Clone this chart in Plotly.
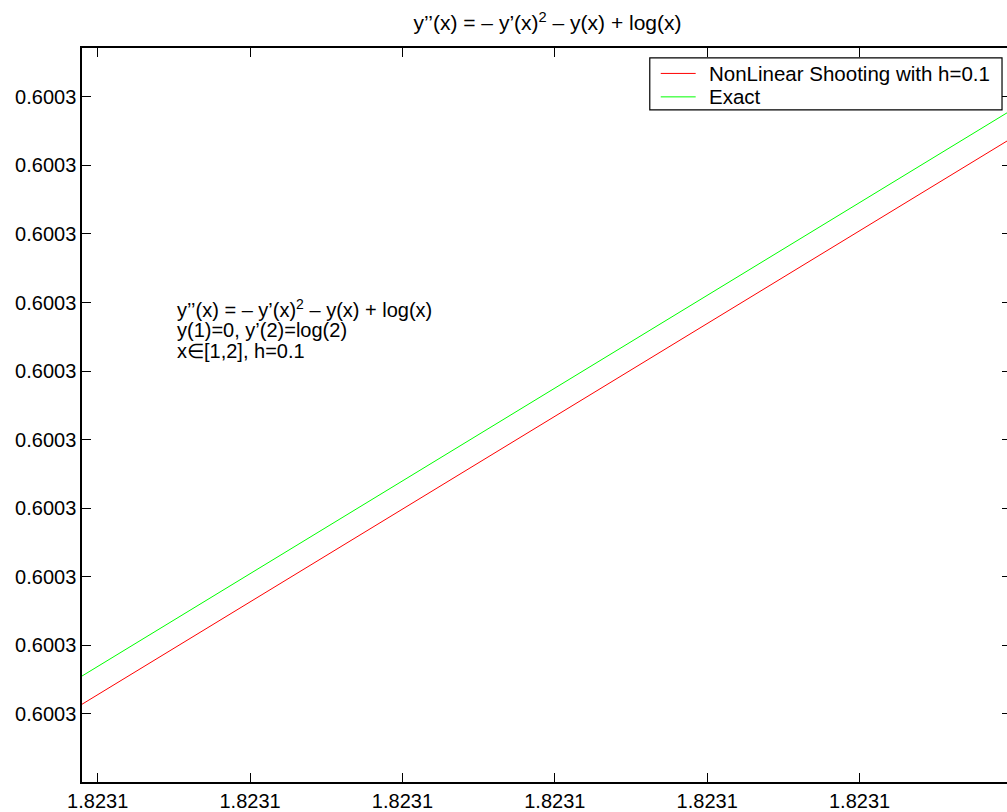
import plotly.graph_objects as go

# ---- data ----
x_vals = [1.8230998972, 1.8231059940]
nonlinear_shooting = [0.6003001410, 0.6003083910]
exact = [0.6003005525, 0.6003088020]

x_ticks = [1.823100, 1.823101, 1.823102, 1.823103, 1.823104, 1.823105]
y_ticks = [0.600300, 0.600301, 0.600302, 0.600303, 0.600304,
           0.600305, 0.600306, 0.600307, 0.600308, 0.600309]

x_range = [1.8230998972, 1.8231059940]
y_range = [0.6003 - 0.993e-6, 0.6003 + 9.712e-6]

series_names = ["NonLinear Shooting with h=0.1", "Exact"]
series_colors = ["#ff0000", "#00ff00"]
title_text = "y\u2019\u2019(x) = \u2013 y\u2019(x)<sup>2</sup> \u2013 y(x) + log(x)"
note_lines = [
    "y\u2019\u2019(x) = \u2013 y\u2019(x)<sup>2</sup> \u2013 y(x) + log(x)",
    "y(1)=0, y\u2019(2)=log(2)",
    "x\u2208[1,2], h=0.1",
]

FONT = "Liberation Sans, Arial, Helvetica, sans-serif"
W, H = 1013, 812
L, T, B = 82, 48, 28
PW, PH = W - L, H - T - B


def px(xp):
    return (xp - L) / PW


def py(yp):
    return (H - B - yp) / PH


fig = go.Figure()
for name, ys, col in zip(series_names, [nonlinear_shooting, exact], series_colors):
    fig.add_trace(go.Scatter(x=x_vals, y=ys, mode="lines", name=name,
                             line=dict(color=col, width=1), showlegend=False))

axis_common = dict(showgrid=False, zeroline=False, ticks="inside", ticklen=9,
                   tickcolor="black", tickwidth=1, mirror="ticks",
                   showline=True, linecolor="black", linewidth=1.5,
                   tickformat=".4f", tickfont=dict(size=20))

fig.update_layout(
    width=W, height=H,
    margin=dict(l=L, r=0, t=T, b=B),
    paper_bgcolor="white", plot_bgcolor="white",
    font=dict(family=FONT, size=20, color="black"),
    title=dict(text=title_text, x=547.5 / W, xanchor="center",
               xref="container", y=1 - 23 / H, yanchor="middle", yref="container",
               font=dict(family=FONT, size=21, color="black")),
    xaxis=dict(range=x_range, tickvals=x_ticks, **axis_common),
    yaxis=dict(range=y_range, tickvals=y_ticks, **axis_common),
    showlegend=False,
)

# MATLAB-style legend box
fig.add_shape(type="rect", xref="paper", yref="paper",
              x0=px(651), x1=px(1004), y0=py(110), y1=py(58),
              line=dict(color="black", width=1.2), fillcolor="white", layer="above")
legend_y = [73.5, 97]
for name, col, ly in zip(series_names, series_colors, legend_y):
    fig.add_shape(type="line", xref="paper", yref="paper",
                  x0=px(662), x1=px(697), y0=py(ly), y1=py(ly),
                  line=dict(color=col, width=1), layer="above")
    fig.add_annotation(text=name, xref="paper", yref="paper",
                       x=px(708), xanchor="left", y=py(ly), yanchor="middle",
                       showarrow=False, font=dict(family=FONT, size=20.5, color="black"))

note_y_px = [309, 331, 352]
for text, ypx in zip(note_lines, note_y_px):
    fig.add_annotation(text=text, xref="paper", yref="paper",
                       x=px(175), xanchor="left", y=py(ypx), yanchor="middle",
                       showarrow=False, font=dict(family=FONT, size=20, color="black"))

fig.write_html(
    "out.html",
    config={"displayModeBar": False},
    post_script="document.documentElement.style.overflow='hidden';"
                "document.body.style.margin='0';document.body.style.overflow='hidden';",
)
